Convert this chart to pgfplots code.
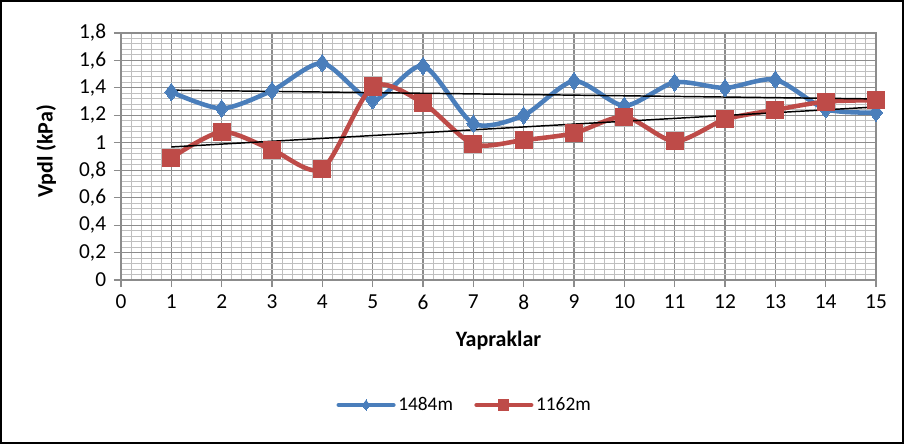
\documentclass[border=0pt]{standalone}
\usepackage{fontspec}
\setmainfont{Carlito}
\usepackage{pgfplots}
\usepackage{pgfplotstable}
\pgfplotsset{compat=1.18}
\definecolor{xblue}{HTML}{4A7EBB}
\definecolor{xred}{HTML}{BE4B48}
\definecolor{majgrid}{HTML}{8C8C8C}
\definecolor{mingrid}{HTML}{BFBFBF}
\pgfplotstableread{
x b r
1 1.37 0.89
2 1.25 1.08
3 1.38 0.95
4 1.58 0.81
5 1.31 1.41
6 1.56 1.29
7 1.14 0.99
8 1.20 1.02
9 1.45 1.07
10 1.27 1.19
11 1.44 1.01
12 1.40 1.17
13 1.46 1.24
14 1.245 1.30
15 1.22 1.31
}\data

\begin{document}
\begin{tikzpicture}[font=\fontsize{16}{18}\selectfont]
\useasboundingbox (0,0) rectangle (678pt,333pt);
\draw[line width=1.4pt] (1pt,1pt) rectangle (677pt,332pt);
\begin{axis}[
  at={(90.75pt,123pt)}, anchor=south west,
  scale only axis, width=566.25pt, height=185.25pt,
  xmin=0, xmax=15, ymin=0, ymax=1.8,
  xtick={0,1,2,3,4,5,6,7,8,9,10,11,12,13,14,15},
  ytick={0,0.2,0.4,0.6,0.8,1,1.2,1.4,1.6,1.8},
  minor tick num=4,
  grid=both,
  major grid style={color=majgrid, line width=0.8pt},
  minor grid style={color=mingrid, line width=0.75pt},
  axis line style={color=majgrid, line width=0.8pt},
  tick align=outside,
  major tick length=5.25pt,
  minor tick length=0pt,
  tick style={color=majgrid, line width=0.8pt},
  xtick pos=bottom, ytick pos=left,
  /pgf/number format/assume math mode=true,
  /pgf/number format/use comma,
  /pgf/number format/fixed,
  ticklabel style={font=\fontsize{16}{18}\selectfont},
  yticklabel style={xshift=-2.4pt},
  xticklabel style={yshift=-2.4pt},
  xlabel={\bfseries Yapraklar},
  ylabel={\bfseries Vpdl (kPa)},
  label style={font=\fontsize{16.5}{18}\selectfont},
  xlabel style={at={(axis description cs:0.5,-0.243)}, anchor=center},
  ylabel style={at={(axis description cs:-0.099,0.52)}, anchor=center},
  legend style={draw=none, fill=none, at={(0.4556,-0.506)}, anchor=center,
    legend columns=2, /tikz/every even column/.append style={column sep=14pt},
    font=\fontsize{14.5}{16}\selectfont},
  legend image code/.code={\draw[mark repeat=2,mark phase=2,#1,mark size=3.8pt] plot coordinates {(0cm,0cm) (0.72cm,0cm) (1.44cm,0cm)};},
  clip=false,
]
\addplot[xblue, line width=3.4pt, line cap=round, line join=round, smooth, tension=0.45,
  mark=diamond*, mark size=6.5pt, mark options={fill=xblue, line width=0pt}]
  table[x=x, y=b] {\data};
\addlegendentry{1484m}
\addplot[xred, line width=3.4pt, line cap=round, line join=round, smooth, tension=0.45,
  mark=square*, mark size=6.4pt, mark options={fill=xred, line width=0pt}]
  table[x=x, y=r] {\data};
\addlegendentry{1162m}
\addplot[black, line width=1.1pt, forget plot] table[x=x, y={create col/linear regression={y=b}}] {\data};
\addplot[black, line width=1.1pt, forget plot] table[x=x, y={create col/linear regression={y=r}}] {\data};
\end{axis}
\end{tikzpicture}
\end{document}
